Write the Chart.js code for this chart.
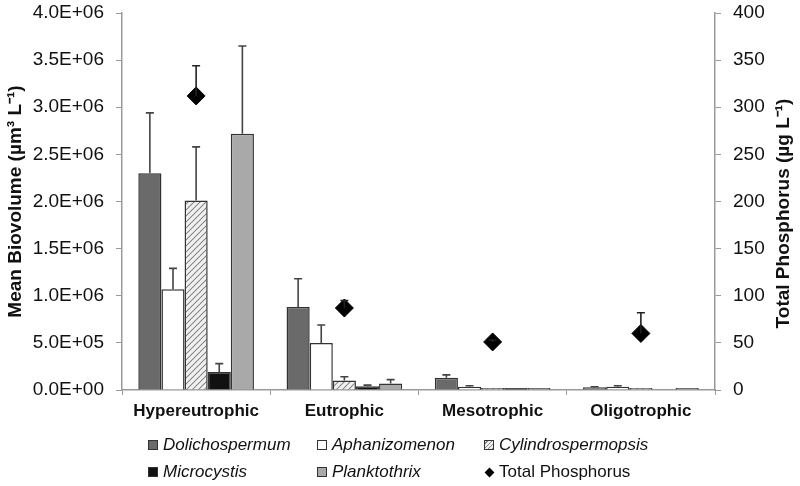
<!DOCTYPE html>
<html>
<head>
<meta charset="utf-8">
<script src="https://cdn.jsdelivr.net/npm/chart.js@4.4.1/dist/chart.umd.min.js"></script>
<style>
    html, body { margin: 0; padding: 0; background: #fff; }
    #wrap { position: relative; width: 800px; height: 486px; }
    #legend { position: absolute; left: 0; top: 0; width: 800px; height: 486px; pointer-events: none;
        font-family: 'Liberation Sans', Arial, sans-serif; font-size: 17px; color: #111; }
    .item { position: absolute; display: flex; align-items: center; white-space: nowrap; }
    .box { width: 8px; height: 8px; border: 1px solid #333; margin-right: 5px; }
    .dia { width: 7px; height: 7px; background: #000; transform: rotate(45deg); margin: 0 6px 0 2px; }
    .it { font-style: italic; }
</style>
</head>
<body>
<div id="wrap">
    <canvas id="chartBiovolume" width="800" height="486"></canvas>
    <div id="legend"></div>
</div>
<script>
const categories = ['Hypereutrophic', 'Eutrophic', 'Mesotrophic', 'Oligotrophic'];

const dolichospermum = [2.30e6, 0.88e6, 0.13e6, 0.03e6];
const dolichospermumErr = [0.64e6, 0.30e6, 0.03e6, 0.005e6];
const aphanizomenon = [1.07e6, 0.50e6, 0.035e6, 0.035e6];
const aphanizomenonErr = [0.22e6, 0.19e6, 0.01e6, 0.01e6];
const cylindrospermopsis = [2.01e6, 0.10e6, 0.006e6, 0.01e6];
const cylindrospermopsisErr = [0.57e6, 0.04e6, 0, 0];
const microcystis = [0.19e6, 0.04e6, 0.006e6, null];
const microcystisErr = [0.09e6, 0.012e6, 0, 0];
const planktothrix = [2.72e6, 0.07e6, 0.006e6, 0.01e6];
const planktothrixErr = [0.93e6, 0.04e6, 0, 0];
const totalPhosphorus = [312, 87, 51, 60];
const totalPhosphorusErr = [32, 8, 2, 22];

const biovolumeTicks = [0, 0.5e6, 1.0e6, 1.5e6, 2.0e6, 2.5e6, 3.0e6, 3.5e6, 4.0e6];
const phosphorusTicks = [0, 50, 100, 150, 200, 250, 300, 350, 400];

const palette = {
    dark: '#6a6a6a',
    white: '#ffffff',
    black: '#111111',
    light: '#a9a9a9',
    edge: '#333333',
    axis: '#9a9a9a',
    text: '#111111',
};

const FONT = "'Liberation Sans', Arial, sans-serif";

function hatch() {
    const c = document.createElement('canvas');
    c.width = 6;
    c.height = 6;
    const g = c.getContext('2d');
    g.fillStyle = '#f2f2f2';
    g.fillRect(0, 0, 6, 6);
    g.strokeStyle = '#8a8a8a';
    g.lineWidth = 1.2;
    g.beginPath();
    g.moveTo(0, 6); g.lineTo(6, 0);
    g.moveTo(-3, 3); g.lineTo(3, -3);
    g.moveTo(3, 9); g.lineTo(9, 3);
    g.stroke();
    return g.createPattern(c, 'repeat');
}

function barSet(label, data, errors, color) {
    return {
        type: 'bar',
        label,
        data,
        errors,
        backgroundColor: color,
        borderColor: palette.edge,
        borderWidth: 1.5,
        minBarLength: 2,
        categoryPercentage: 0.78,
        barPercentage: 1.0,
        yAxisID: 'y',
        order: 1,
    };
}

// upward-only error bars with a small cap
const errorBars = {
    id: 'errorBars',
    afterDatasetsDraw(chart) {
        const { ctx } = chart;
        chart.data.datasets.forEach((ds, i) => {
            if (!ds.errors) return;
            const meta = chart.getDatasetMeta(i);
            const scale = chart.scales[ds.yAxisID];
            meta.data.forEach((el, j) => {
                const err = ds.errors[j];
                if (!err || ds.data[j] == null) return;
                const x = el.x;
                const y0 = el.y;
                const y1 = scale.getPixelForValue(ds.data[j] + err);
                ctx.save();
                ctx.strokeStyle = ds.type === 'line' ? '#222' : '#444';
                ctx.lineWidth = 1.6;
                ctx.beginPath();
                ctx.moveTo(x, y0);
                ctx.lineTo(x, y1);
                ctx.moveTo(x - 4, y1);
                ctx.lineTo(x + 4, y1);
                ctx.stroke();
                ctx.restore();
            });
        });
    },
};

// right axis title reads bottom-to-top like the left one
const rightTitle = {
    id: 'rightTitle',
    afterDraw(chart) {
        const { ctx, chartArea } = chart;
        ctx.save();
        ctx.translate(784, (chartArea.top + chartArea.bottom) / 2 + 12);
        ctx.rotate(-Math.PI / 2);
        ctx.font = `bold 19px ${FONT}`;
        ctx.fillStyle = palette.text;
        ctx.textAlign = 'center';
        ctx.textBaseline = 'middle';
        ctx.fillText('Total Phosphorus (µg L⁻¹)', 0, 0);
        ctx.restore();
    },
};

function fmtExp(v) {
    if (v === 0) return '0.0E+00';
    const e = Math.floor(Math.log10(v));
    const m = v / Math.pow(10, e);
    return m.toFixed(1) + 'E+' + String(e).padStart(2, '0');
}

new Chart(document.getElementById('chartBiovolume'), {
    data: {
        labels: categories,
        datasets: [
            {
                type: 'line',
                label: 'Total Phosphorus',
                data: totalPhosphorus,
                errors: totalPhosphorusErr,
                showLine: false,
                pointStyle: 'rectRot',
                pointRadius: 9,
                pointBackgroundColor: '#000',
                pointBorderColor: '#000',
                yAxisID: 'y1',
                order: 0,
            },
            barSet('Dolichospermum', dolichospermum, dolichospermumErr, palette.dark),
            barSet('Aphanizomenon', aphanizomenon, aphanizomenonErr, palette.white),
            barSet('Cylindrospermopsis', cylindrospermopsis, cylindrospermopsisErr, hatch()),
            barSet('Microcystis', microcystis, microcystisErr, palette.black),
            barSet('Planktothrix', planktothrix, planktothrixErr, palette.light),
        ],
    },
    options: {
        responsive: false,
        animation: false,
        layout: { padding: { top: 13, left: 0, right: 0, bottom: 0 } },
        plugins: {
            legend: { display: false },
            tooltip: { enabled: false },
        },
        scales: {
            x: {
                offset: true,
                grid: { display: true, drawOnChartArea: false, offset: true, tickLength: 5, color: palette.axis },
                border: { color: palette.axis, width: 1.5 },
                ticks: { color: palette.text, padding: 6, font: { family: FONT, size: 17, weight: 'bold' } },
                afterFit(scale) { scale.height = 96; },
            },
            y: {
                position: 'left',
                min: 0,
                max: 4.0e6,
                afterBuildTicks(scale) { scale.ticks = biovolumeTicks.map(value => ({ value })); },
                grid: { display: true, drawOnChartArea: false, tickLength: 6, color: palette.axis },
                border: { color: palette.axis, width: 1.5 },
                ticks: { color: palette.text, padding: 12, callback: v => fmtExp(v), font: { family: FONT, size: 19 } },
                title: {
                    display: true,
                    text: 'Mean Biovolume (µm³ L⁻¹)',
                    color: palette.text,
                    padding: { top: 4, bottom: 2 },
                    font: { family: FONT, size: 19, weight: 'bold' },
                },
                afterFit(scale) {
                    scale.width = 122;
                    scale.paddingTop = 0;
                    scale.paddingBottom = 0;
                },
            },
            y1: {
                position: 'right',
                min: 0,
                max: 400,
                afterBuildTicks(scale) { scale.ticks = phosphorusTicks.map(value => ({ value })); },
                grid: { display: true, drawOnChartArea: false, tickLength: 6, color: palette.axis },
                border: { color: palette.axis, width: 1.5 },
                ticks: { color: palette.text, padding: 12, font: { family: FONT, size: 19 } },
                afterFit(scale) {
                    scale.width = 85;
                    scale.paddingTop = 0;
                    scale.paddingBottom = 0;
                },
            },
        },
    },
    plugins: [errorBars, rightTitle],
});

const legendItems = [
    { label: 'Dolichospermum', swatch: palette.dark, x: 148, y: 445, italic: true },
    { label: 'Aphanizomenon', swatch: palette.white, x: 317, y: 445, italic: true },
    { label: 'Cylindrospermopsis', swatch: 'hatch', x: 484, y: 445, italic: true },
    { label: 'Microcystis', swatch: palette.black, x: 148, y: 472, italic: true },
    { label: 'Planktothrix', swatch: palette.light, x: 317, y: 472, italic: true },
    { label: 'Total Phosphorus', swatch: 'diamond', x: 484, y: 472, italic: false },
];

const legend = document.getElementById('legend');
legendItems.forEach(item => {
    const div = document.createElement('div');
    div.className = 'item';
    div.style.left = item.x + 'px';
    div.style.top = (item.y - 10) + 'px';
    const sw = document.createElement('span');
    if (item.swatch === 'diamond') {
        sw.className = 'dia';
    } else {
        sw.className = 'box';
        sw.style.background = item.swatch === 'hatch'
            ? 'repeating-linear-gradient(-45deg, #888 0 1px, #eee 1px 3px)'
            : item.swatch;
    }
    const tx = document.createElement('span');
    tx.textContent = item.label;
    if (item.italic) tx.className = 'it';
    div.appendChild(sw);
    div.appendChild(tx);
    legend.appendChild(div);
});
</script>
</body>
</html>
